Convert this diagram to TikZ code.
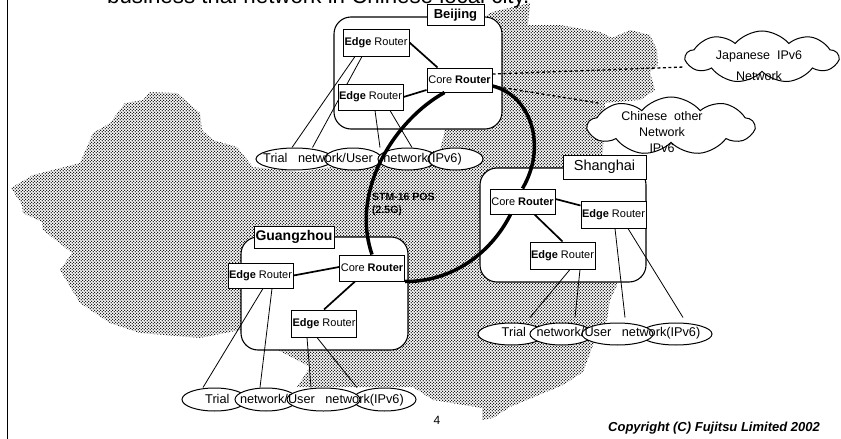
\documentclass[tikz,border=0pt]{standalone}
\usepackage{fontspec}
\setmainfont{Liberation Sans}
\usepackage{xcolor}
\usetikzlibrary{arrows.meta,positioning,calc,shapes.geometric,shapes.symbols,patterns}
\pgfdeclarepatternformonly{mapdither}{\pgfqpoint{0pt}{0pt}}{\pgfqpoint{3.4pt}{3.4pt}}{\pgfqpoint{3.4pt}{3.4pt}}{%
  \pgfpathcircle{\pgfqpoint{0.85pt}{0.85pt}}{0.82pt}%
  \pgfpathcircle{\pgfqpoint{2.55pt}{2.55pt}}{0.82pt}%
  \pgfusepath{fill}}
\tikzset{
  site/.style={draw,line width=1.1pt,fill=white,rounded corners=17pt,inner sep=0pt},
  sitename/.style={draw,line width=1pt,fill=white,inner sep=0pt,minimum height=21pt},
  router/.style={draw,line width=1pt,fill=white,inner sep=0pt,minimum width=65pt,
                 minimum height=26pt,font=\fontsize{11}{12}\selectfont},
  lan/.style={ellipse,draw,line width=1pt,fill=white,inner sep=0pt,minimum height=22pt},
  lantext/.style={inner sep=0pt,font=\fontsize{12.7}{15}\selectfont},
  puff/.style={cloud,cloud puffs=9,cloud puff arc=100,cloud ignores aspect,draw,line width=1pt,
               fill=white,inner sep=0pt},
  cloudtext/.style={inner sep=0pt,align=center},
  uplink/.style={line width=.8pt},
  trunk/.style={line width=1.7pt},
  backbone/.style={line width=3.5pt},
  peering/.style={line width=1.3pt,dash pattern=on 3pt off 2.5pt},
}
\newcommand{\edgelabel}{\textbf{Edge}~Router}
\newcommand{\corelabel}{Core~\textbf{Router}}
\newcommand{\lanlabel}{Trial~~~network/User~~~network(IPv6)}
\begin{document}
\begin{tikzpicture}[x=1pt,y=-1pt]
  \useasboundingbox (0,0) rectangle (841,439);
  \clip (0,0) rectangle (841,439);
  % map of China
  \path[pattern=mapdither] (11,188)--(33,175)--(80,163)--(93,133)--(110,123)--(125,103)--(143,100)
    --(150,92)--(177,93)--(200,113)--(202,130)--(213,140)--(237,147)--(253,167)--(300,172)
    --(440,150)--(445,130)--(450,100)--(487,15)--(492,12)--(530,3)--(528,25)--(560,25)--(600,32)
    --(612,38)--(630,30)--(650,35)--(657,50)--(658,65)--(650,72)--(655,90)--(640,100)--(605,103)
    --(603,150)--(600,170)--(617,285)--(610,300)--(607,320)--(593,345)--(583,372)--(563,385)
    --(510,407)--(493,418)--(482,420)--(482,408)--(433,400)--(413,387)--(297,387)--(310,367)
    --(240,330)--(200,338)--(140,333)--(110,323)--(80,303)--(60,270)--(72,253)--(43,230)--(42,222)
    --(23,213)--(22,205)--cycle;
  \draw[line width=1.3pt] (7.5,0)--(7.5,439);
  \node[anchor=base west,inner sep=0pt,font=\fontsize{22.3}{24}\selectfont] (headline) at (107,4)
    {business trial network in Chinese local city.};

  % sites
  \node[site,minimum width=168pt,minimum height=112pt] (bjsite) at (418,73){};
  \node[site,minimum width=167pt,minimum height=113pt] (gzsite) at (324.5,293.5){};
  \node[site,minimum width=166pt,minimum height=114pt] (shsite) at (563,225){};
  \node[sitename,minimum width=57pt,font=\fontsize{13}{15}\selectfont\bfseries] (bjname) at (455.5,15){Beijing};
  \node[sitename,minimum width=80pt,minimum height=22pt,font=\fontsize{14}{16}\selectfont\bfseries] (gzname) at (294,237){Guangzhou};
  \node[sitename,minimum width=83pt,minimum height=24pt,font=\fontsize{14.5}{16}\selectfont] (shname) at (604.5,167){Shanghai};

  % lan rows
  \node[lan,minimum width=77pt] (bjnetA) at (294.5,159){};
  \node[lan,minimum width=57pt] (bjnetB) at (353,159){};
  \node[lan,minimum width=59pt] (bjnetC) at (407.5,159){};
  \node[lan,minimum width=55pt] (bjnetD) at (455.5,159){};
  \node[lan,minimum width=65pt,minimum height=23pt] (gznetA) at (214.5,399.5){};
  \node[lan,minimum width=62pt,minimum height=23pt] (gznetB) at (266,399.5){};
  \node[lan,minimum width=63pt,minimum height=23pt] (gznetD) at (384.5,399.5){};
  \node[lan,minimum width=73pt,minimum height=23pt] (gznetC) at (323.5,399.5){};
  \node[lan,minimum width=67pt] (shnetA) at (511.5,334){};
  \node[lan,minimum width=63pt] (shnetB) at (561.5,334){};
  \node[lan,minimum width=72pt] (shnetD) at (676,334){};
  \node[lan,minimum width=71pt] (shnetC) at (617.5,334){};

  % routers, the upper Beijing uplinks run behind the lower box
  \node[router,minimum width=66pt,minimum height=27pt] (bjedgeA) at (376,42.5){\edgelabel};
  \draw[uplink] ([xshift=-21pt]bjedgeA.south)--([xshift=-2.5pt]bjnetA.north);
  \draw[uplink] ([xshift=-14pt]bjedgeA.south)--([xshift=18pt]bjnetA.north);
  \node[router] (bjedgeB) at (370.5,97){\edgelabel};
  \node[router,minimum height=24pt] (bjcore) at (459.5,80){\corelabel};
  \node[router,minimum height=25pt] (gzedgeA) at (260.5,275.5){\edgelabel};
  \node[router] (gzcore) at (372,268){\corelabel};
  \node[router,minimum height=27pt] (gzedgeB) at (324,323.5){\edgelabel};
  \node[router,minimum height=25pt] (shcore) at (522.5,201.5){\corelabel};
  \node[router,minimum height=27pt] (shedgeA) at (613.5,214.5){\edgelabel};
  \node[router,minimum height=27pt] (shedgeB) at (562.5,255.5){\edgelabel};

  % clouds
  \node[puff,minimum width=152pt,minimum height=52pt] (jpcloud) at (762,57){};
  \node[puff,minimum width=166pt,minimum height=58pt] (cncloud) at (671,126){};
  \node[cloudtext,font=\fontsize{12.5}{21}\selectfont] (jptext) at (759,65.5){Japanese~~IPv6\\Network};
  \node[cloudtext,font=\fontsize{12.5}{16}\selectfont] (cntext) at (662,132.5){Chinese~~other\\Network\\IPv6};

  % links inside the sites
  \draw[trunk] (bjedgeA.east)--([xshift=-22pt]bjcore.north);
  \draw[trunk] (bjedgeB.east)--([yshift=-10pt]bjcore.west);
  \draw[trunk] (gzedgeA.east)--([yshift=1pt]gzcore.west);
  \draw[trunk] ([xshift=-17pt]gzcore.south)--(gzedgeB.north);
  \draw[trunk] ([yshift=2.5pt]shcore.east)--([yshift=9pt]shedgeA.west);
  \draw[trunk] ([xshift=12pt]shcore.south)--(shedgeB.north);

  % uplinks to the lan rows
  \draw[uplink] ([xshift=-17pt]gzedgeB.south)--([xshift=-12.5pt]gznetC.north);
  \draw[uplink] ([xshift=-7pt]gzedgeB.south)--([xshift=33.5pt]gznetC.north);
  \draw[uplink] ([xshift=2.5pt]gzedgeA.south)--([xshift=-11.5pt]gznetA.north);
  \draw[uplink] ([xshift=11.5pt]gzedgeA.south)--([xshift=-6pt]gznetB.north);
  \draw[uplink] ([xshift=4.5pt]bjedgeB.south)--([xshift=-27.5pt]bjnetC.north);
  \draw[uplink] ([xshift=19.5pt]bjedgeB.south)--([xshift=4.5pt]bjnetC.north);
  \draw[uplink] ([xshift=7.5pt]shedgeB.south)--([shift={(18.5pt,5pt)}]shnetA.north);
  \draw[uplink] ([xshift=17.5pt]shedgeB.south)--([shift={(13.5pt,5pt)}]shnetB.north);
  \draw[uplink] ([xshift=1.5pt]shedgeA.south)--([shift={(7.5pt,5pt)}]shnetC.north);
  \draw[uplink] ([xshift=14.5pt]shedgeA.south)--([shift={(7pt,5pt)}]shnetD.north);

  % backbone
  \draw[backbone] ([xshift=-15pt]bjcore.south) .. controls (395,120) and (350,190) .. (gzcore.north);
  \draw[backbone] ([yshift=-6pt]bjcore.east) .. controls (530,95) and (548,145) .. (shcore.north);
  \draw[backbone] ([xshift=-12pt]shcore.south) .. controls (490,255) and (450,282) .. (gzcore.south east);
  \draw[peering] ([yshift=6pt]bjcore.east)--([yshift=-10pt]jpcloud.west);
  \draw[peering] ([yshift=-6pt]bjcore.east)--([shift={(12pt,23pt)}]cncloud.west);

  % row texts and labels
  \node[lantext] (bjtext) at (362.5,159){\lanlabel};
  \node[lantext] (gztext) at (304.5,400){\lanlabel};
  \node[lantext] (shtext) at (601,333){\lanlabel};
  \node[anchor=west,inner sep=0pt,align=left,font=\fontsize{10.5}{13}\selectfont\bfseries] (stmlabel) at (372,204){STM-16 POS\\(2.5G)};
  \node[inner sep=0pt,font=\fontsize{12}{14}\selectfont] (pageno) at (437,420){4};
  \node[anchor=base east,inner sep=0pt,font=\fontsize{13}{15}\selectfont\bfseries\itshape] (copyright) at (820,431){Copyright (C) Fujitsu Limited 2002};
\end{tikzpicture}
\end{document}
